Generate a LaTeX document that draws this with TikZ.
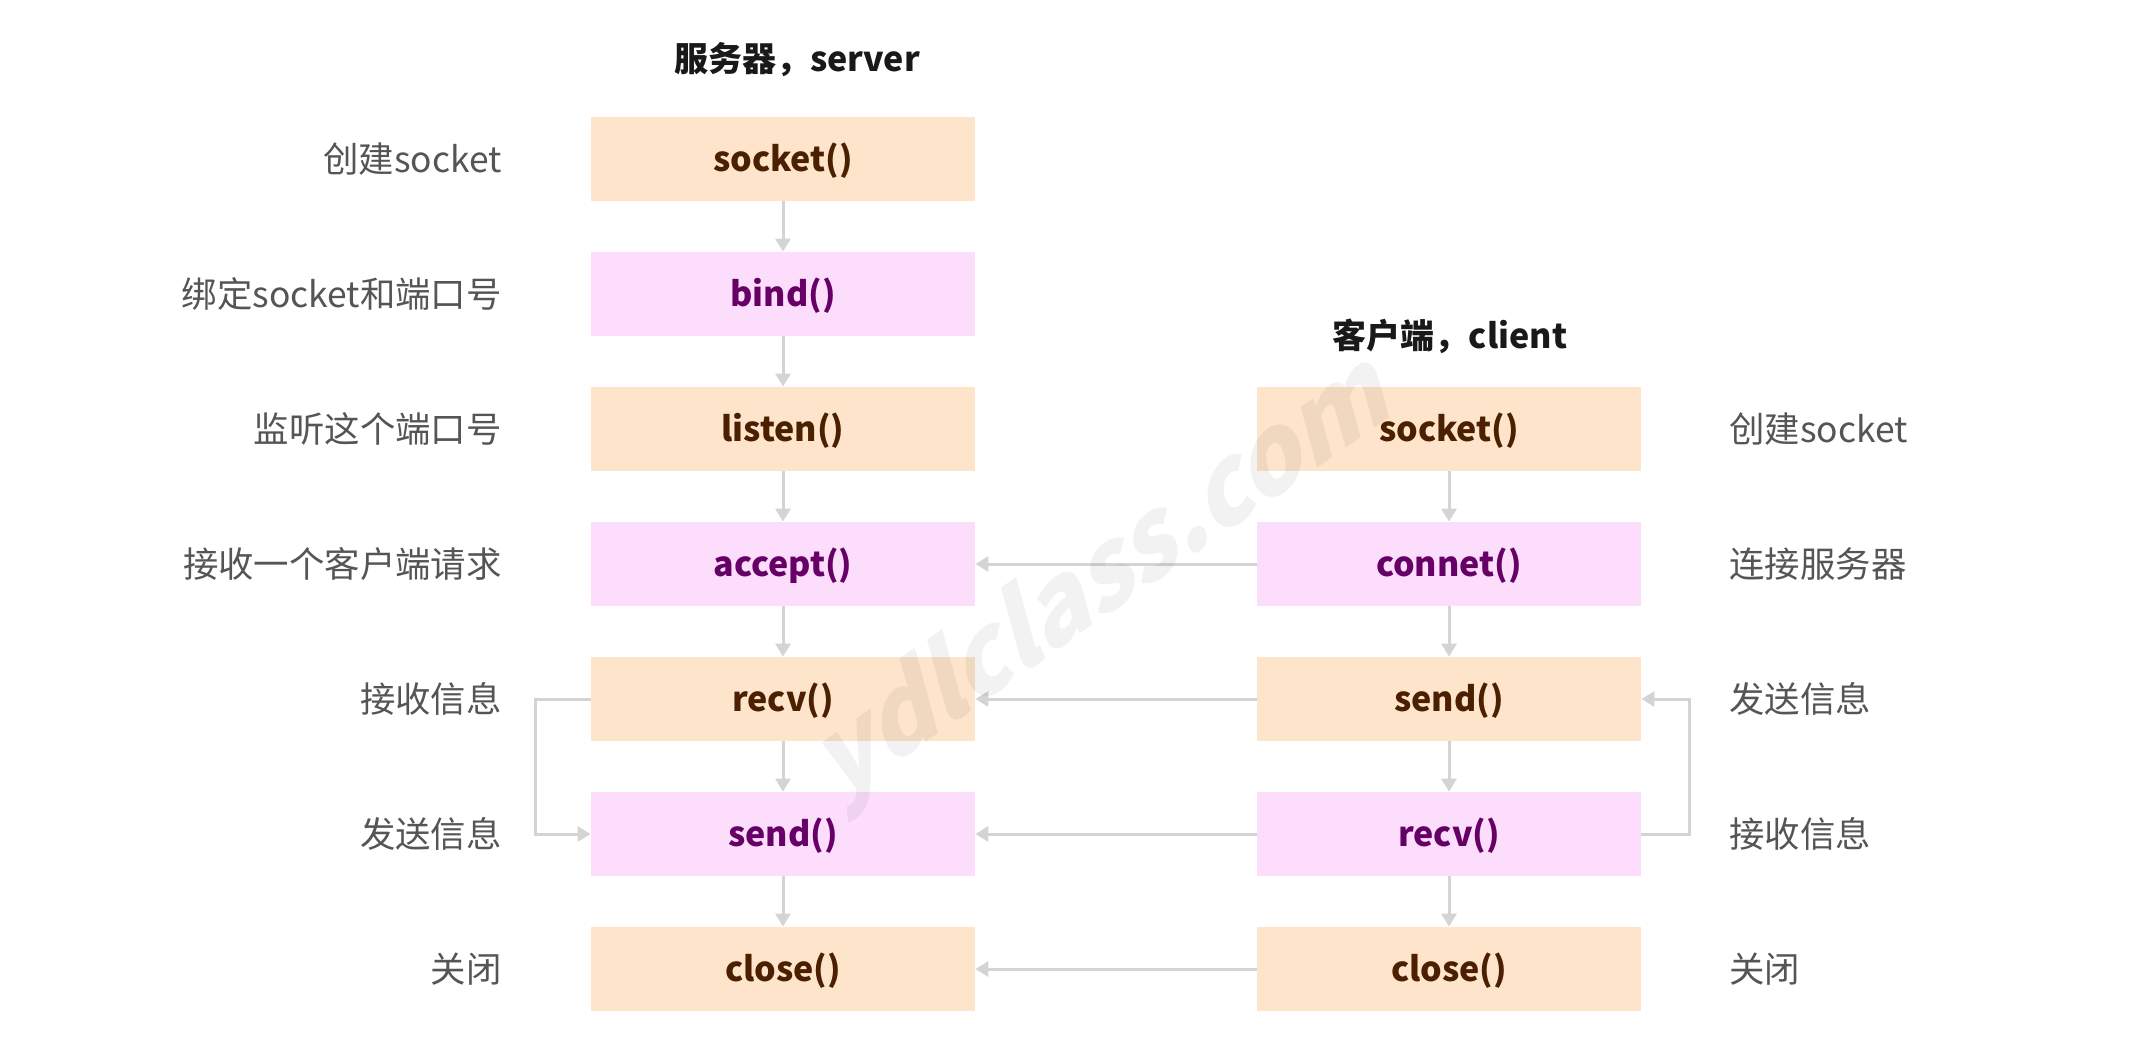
\documentclass[tikz,border=0pt]{standalone}
\usepackage{fontspec}
\setmainfont{Noto Sans CJK SC}
\usetikzlibrary{arrows.meta}
\definecolor{peach}{HTML}{FDE4CB}
\definecolor{pinkish}{HTML}{FCDEFC}
\definecolor{brownish}{HTML}{4A2000}
\definecolor{plum}{HTML}{660066}
\definecolor{linkgray}{HTML}{D4D4D4}
\definecolor{labelgray}{HTML}{555555}

\begin{document}
\begin{tikzpicture}[x=0.5pt,y=0.5pt]
\tikzstyle{every node}+=[inner sep=0pt]
\tikzstyle{fbox}=[minimum width=192pt, minimum height=42pt, text height=13pt, text depth=0.5pt, font=\fontsize{17}{20}\selectfont\bfseries]
\tikzstyle{obox}=[fbox, fill=peach, text=brownish]
\tikzstyle{pbox}=[fbox, fill=pinkish, text=plum]
\tikzstyle{lbl}=[text=labelgray, font=\fontsize{17.7}{21}\selectfont]
\tikzstyle{ttl}=[text=black!90, font=\fontsize{17}{20}\selectfont\bfseries]
\tikzstyle{link}=[linkgray, line width=1.5pt, -{Triangle[length=6.5pt,width=7.5pt]}]
\useasboundingbox (0,0) rectangle (2145,-1047);
% server
\node [ttl] (stitle) at (797,-60) {服务器，server};
\node [obox] (ssocket) at (783,-159) {socket()};
\node [pbox] (sbind) at (783,-294) {bind()};
\node [obox] (slisten) at (783,-429) {listen()};
\node [pbox] (saccept) at (783,-564) {accept()};
\node [obox] (srecv) at (783,-699) {recv()};
\node [pbox] (ssend) at (783,-834) {send()};
\node [obox] (sclose) at (783,-969) {close()};
\node [lbl, anchor=east] (l1) at (502,-159) {创建socket};
\node [lbl, anchor=east] (l2) at (502,-294) {绑定socket和端口号};
\node [lbl, anchor=east] (l3) at (502,-429) {监听这个端口号};
\node [lbl, anchor=east] (l4) at (502,-564) {接收一个客户端请求};
\node [lbl, anchor=east] (l5) at (502,-699) {接收信息};
\node [lbl, anchor=east] (l6) at (502,-834) {发送信息};
\node [lbl, anchor=east] (l7) at (502,-969) {关闭};
% client
\node [ttl] (ctitle) at (1450,-336) {客户端，client};
\node [obox] (csocket) at (1449,-429) {socket()};
\node [pbox] (cconnet) at (1449,-564) {connet()};
\node [obox] (csend) at (1449,-699) {send()};
\node [pbox] (crecv) at (1449,-834) {recv()};
\node [obox] (cclose) at (1449,-969) {close()};
\node [lbl, anchor=west] (r1) at (1729,-429) {创建socket};
\node [lbl, anchor=west] (r2) at (1729,-564) {连接服务器};
\node [lbl, anchor=west] (r3) at (1729,-699) {发送信息};
\node [lbl, anchor=west] (r4) at (1729,-834) {接收信息};
\node [lbl, anchor=west] (r5) at (1729,-969) {关闭};
% server flow
\draw [link] (ssocket) -- (sbind);
\draw [link] (sbind) -- (slisten);
\draw [link] (slisten) -- (saccept);
\draw [link] (saccept) -- (srecv);
\draw [link] (srecv) -- (ssend);
\draw [link] (ssend) -- (sclose);
\draw [link] (srecv.west) -- ++(-55,0) |- (ssend.west);
% client flow
\draw [link] (csocket) -- (cconnet);
\draw [link] (cconnet) -- (csend);
\draw [link] (csend) -- (crecv);
\draw [link] (crecv) -- (cclose);
\draw [link] (crecv.east) -- ++(48,0) |- (csend.east);
% between
\draw [link] (cconnet) -- (saccept);
\draw [link] (csend) -- (srecv);
\draw [link] (crecv) -- (ssend);
\draw [link] (cclose) -- (sclose);
% watermark
\node [text=black, text opacity=0.05, rotate=35, xslant=0.36, font=\fontsize{52}{60}\selectfont\bfseries] (mark) at (1108,-578) {ydlclass.com};
\end{tikzpicture}
\end{document}
